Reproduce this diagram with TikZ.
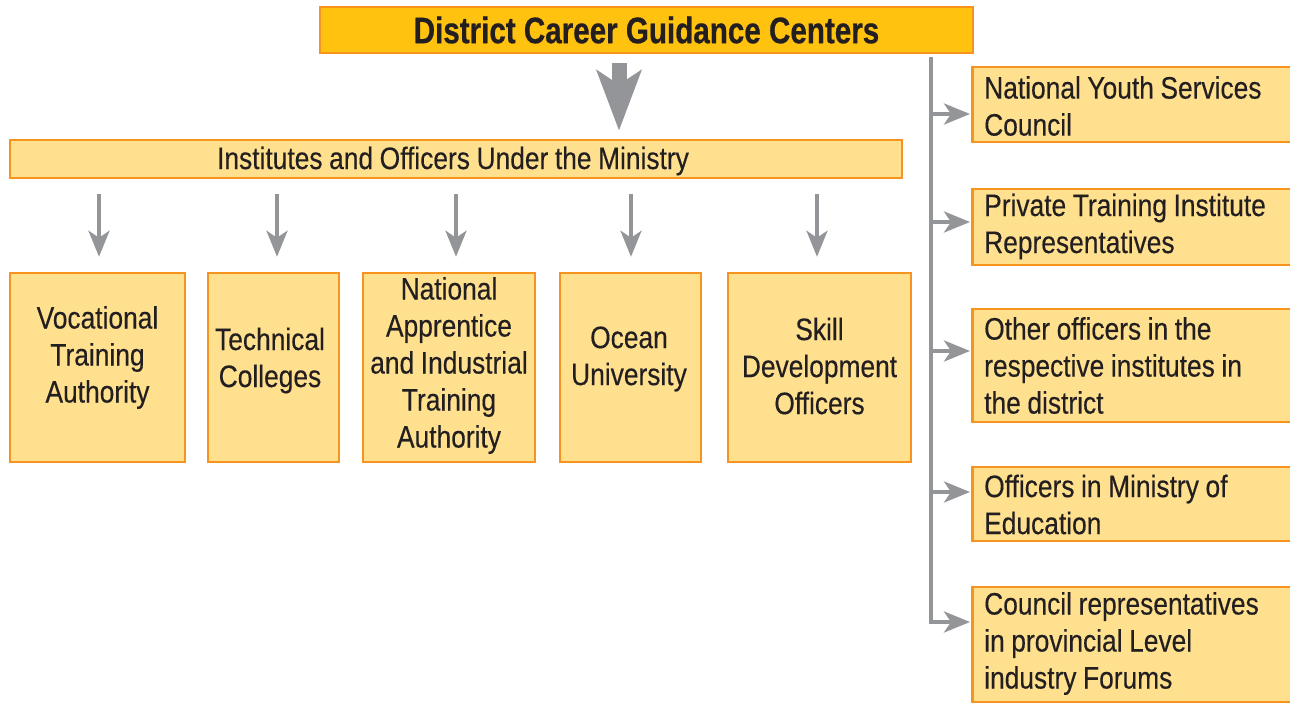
\documentclass[tikz,border=0pt]{standalone}
\usepackage{fontspec}
\setmainfont{Liberation Sans}[FakeStretch=0.85, WordSpace={0.9}, FakeBold=0.3]
\newfontfamily\titlefont{Liberation Sans}[FakeStretch=0.80, FakeBold=0.5]
\usetikzlibrary{arrows.meta}
\definecolor{gold}{HTML}{FFC20E}
\definecolor{orng}{HTML}{F7941D}
\definecolor{lite}{HTML}{FEE08F}
\definecolor{grayarr}{HTML}{939598}
\definecolor{ink}{HTML}{231F20}
\begin{document}
\begin{tikzpicture}[x=1pt,y=-1pt,
  box/.style={draw=orng, line width=2.5pt, fill=lite, inner sep=0pt},
  txt/.style={text=ink, inner sep=0pt, font=\fontsize{31}{37}\selectfont, align=center},
  rbox/.style={box, anchor=west, minimum width=345pt},
  rtxt/.style={txt, anchor=west, align=left},
  arr/.style={draw=grayarr, line width=4pt,
    -{Stealth[length=26pt,width=21pt,inset=7pt,fill=grayarr]}},
  bigarr/.style={draw=grayarr, line width=15pt,
    -{Stealth[length=60pt,width=44pt,inset=14pt,fill=grayarr]}}]
\useasboundingbox (0,0) rectangle (1290,703);

% top
\node[box, fill=gold, text=ink, minimum width=653pt, minimum height=46pt,
  font=\titlefont\bfseries\fontsize{37}{40}\selectfont] (top) at (646.5,30)
  {District Career Guidance Centers};

% institutes bar
\node[box, minimum width=892pt, minimum height=38pt] (inst) at (456,159) {};
\node[txt] (instt) at (453,161) {Institutes and Officers Under the Ministry};

% bottom boxes
\node[box, minimum width=175pt, minimum height=189pt] (b1) at (97.5,367.5) {};
\node[box, minimum width=131pt, minimum height=189pt] (b2) at (273.5,367.5) {};
\node[box, minimum width=172pt, minimum height=189pt] (b3) at (449,367.5) {};
\node[box, minimum width=141pt, minimum height=189pt] (b4) at (630.5,367.5) {};
\node[box, minimum width=183pt, minimum height=189pt] (b5) at (819.5,367.5) {};
\node[txt] (t1) at (97.5,357.5) {Vocational\\Training\\Authority};
\node[txt] (t2) at (270,360.5) {Technical\\Colleges};
\node[txt] (t3) at (449,365.5) {National\\Apprentice\\and Industrial\\Training\\Authority};
\node[txt] (t4) at (629,359) {Ocean\\University};
\node[txt] (t5) at (819.5,366) {Skill\\Development\\Officers};

% right boxes
\node[rbox, minimum height=75pt] (r1) at (971,104.5) {};
\node[rbox, minimum height=76pt] (r2) at (971,227) {};
\node[rbox, minimum height=113pt] (r3) at (971,365.5) {};
\node[rbox, minimum height=74pt] (r4) at (971,504) {};
\node[rbox, minimum height=115pt] (r5) at (971,644.5) {};
\node[rtxt] (rt1) at (984,106) {National Youth Services\\Council};
\node[rtxt] (rt2) at (984,226.5) {Private Training Institute\\Representatives};
\node[rtxt] (rt3) at (984,365.5) {Other officers in the\\respective institutes in\\the district};
\node[rtxt] (rt4) at (984,504.5) {Officers in Ministry of\\Education};
\node[rtxt] (rt5) at (984,643.5) {Council representatives\\in provincial Level\\industry Forums};

% big arrow
\draw[bigarr, shorten <=9pt, shorten >=8pt] (top.south -| 619,0) -- (inst.north -| 619,0);

% small arrows
\draw[arr, shorten <=15pt, shorten >=15pt] (inst.south -| 99,0) -- (b1.north -| 99,0);
\draw[arr, shorten <=15pt, shorten >=15pt] (inst.south -| 277,0) -- (b2.north -| 277,0);
\draw[arr, shorten <=15pt, shorten >=15pt] (inst.south -| 456,0) -- (b3.north -| 456,0);
\draw[arr, shorten <=15pt, shorten >=15pt] (inst.south -| 631,0) -- (b4.north -| 631,0);
\draw[arr, shorten <=15pt, shorten >=15pt] (inst.south -| 817,0) -- (b5.north -| 817,0);

% trunk on the right
\coordinate (vtop) at (931,57);
\draw[draw=grayarr, line width=4pt] (vtop) -- (vtop |- 0,600);
\draw[arr, shorten >=1pt] (vtop) |- (r5.west |- 0,622);
\draw[arr, shorten >=1pt] (vtop |- 0,114) -- (r1.west |- 0,114);
\draw[arr, shorten >=1pt] (vtop |- 0,222) -- (r2.west |- 0,222);
\draw[arr, shorten >=1pt] (vtop |- 0,351) -- (r3.west |- 0,351);
\draw[arr, shorten >=1pt] (vtop |- 0,492) -- (r4.west |- 0,492);
\end{tikzpicture}
\end{document}
